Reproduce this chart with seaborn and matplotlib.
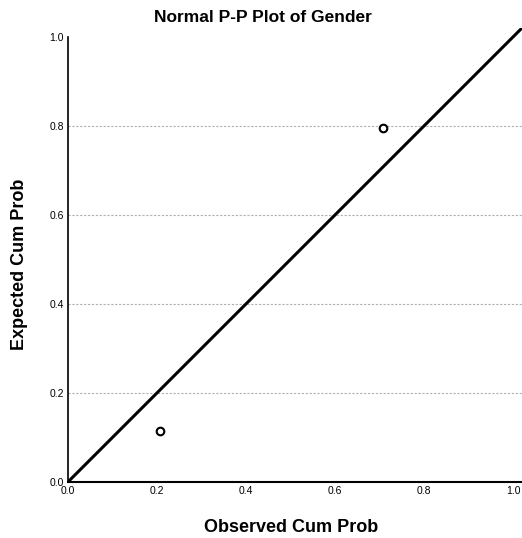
import matplotlib
matplotlib.use('Agg')
import matplotlib.pyplot as plt
import seaborn as sns
import pandas as pd

# observed vs expected cumulative probabilities (Gender, 2 categories)
observed = [0.207, 0.708]
expected = [0.115, 0.795]
ref_line = [0.0, 1.05]
ticks = [0.0, 0.2, 0.4, 0.6, 0.8, 1.0]
tick_labels = ['0.0', '0.2', '0.4', '0.6', '0.8', '1.0']

pts = pd.DataFrame({'Observed': observed, 'Expected': expected})
diag = pd.DataFrame({'x': ref_line, 'y': ref_line})

sns.set_theme(style="white")
plt.rcParams['font.family'] = ['Liberation Sans', 'DejaVu Sans']
plt.rcParams['text.color'] = 'black'
plt.rcParams['axes.labelcolor'] = 'black'
plt.rcParams['xtick.color'] = 'black'
plt.rcParams['ytick.color'] = 'black'

fig = plt.figure(figsize=(5.22, 5.38), dpi=100)
ax = fig.add_axes([0.130, 0.104, 0.870, 0.844])

# horizontal dotted grid
for t in ticks[1:-1]:
    ax.axhline(t, color='#b0b0b0', lw=0.8, ls=(0, (2, 1.5)), zorder=0)

sns.lineplot(data=diag, x='x', y='y', ax=ax, color='black', lw=2.2)
sns.scatterplot(data=pts, x='Observed', y='Expected', ax=ax, s=30,
                facecolor='white', edgecolor='black', linewidth=1.5, zorder=5)

ax.set_xlim(0, 1.02)
ax.set_ylim(0, 1.02)
ax.set_xticks(ticks)
ax.set_xticklabels(tick_labels, fontsize=7.5)
ax.set_yticks(ticks)
ax.set_yticklabels(tick_labels, fontsize=7.5)
ax.tick_params(length=0, pad=3)
for s in ['top', 'right']:
    ax.spines[s].set_visible(False)
ax.spines['left'].set_bounds(0, 1.0)
ax.spines['left'].set_color('black')
ax.spines['bottom'].set_color('black')
ax.spines['left'].set_linewidth(1.2)
ax.spines['bottom'].set_linewidth(1.5)

ax.set_xlabel('')
ax.set_ylabel('')
fig.text(291 / 522, 1 - 528 / 538, 'Observed Cum Prob', ha='center', va='center',
         fontsize=13, fontweight='bold')
fig.text(20 / 522, 1 - 264 / 538, 'Expected Cum Prob', ha='center', va='center',
         rotation='vertical', fontsize=13, fontweight='bold')
fig.text(263 / 522, 1 - 17 / 538, 'Normal P-P Plot of Gender', ha='center', va='center',
         fontsize=12.5, fontweight='bold')

plt.savefig('out.png', dpi=100)
